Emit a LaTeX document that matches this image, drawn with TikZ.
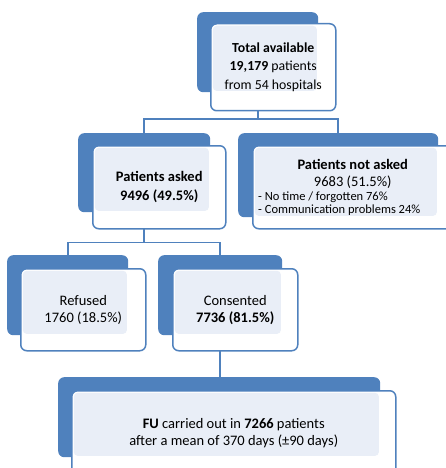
\documentclass[tikz,border=0pt]{standalone}
\usepackage{fontspec}
\setmainfont{Carlito}
\usetikzlibrary{positioning,backgrounds,calc}
\definecolor{smblue}{HTML}{4F81BD}
\definecolor{smlight}{HTML}{E9EEF7}

\begin{document}
\begin{tikzpicture}
			[x=1pt, y=-1pt,
				% STYLES
				% The back style is the blue block behind each box
				back/.style={rectangle, fill=smblue, rounded corners=6pt, inner
						sep=0pt, anchor=north west},
				% The front style is the framed box with the text
				front/.style={rectangle, draw=smblue, line width=1.5pt, fill=white,
						rounded corners=6pt, inner sep=0pt, anchor=north west},
				% light part where the two boxes overlap
				lightpart/.style={path picture={\fill[smlight, rounded corners=4pt]
								([shift={(2pt,-2pt)}]path picture bounding box.north west)
								rectangle ([shift={(-1.5pt,1.5pt)}]#1.south east);}},
				txt/.style={align=center, font=\fontsize{14.5}{18}\selectfont},
				small/.style={align=left, inner sep=1pt,
						font=\fontsize{12.5}{13.5}\selectfont},
				link/.style={draw=smblue, line width=1.8pt}]

			\useasboundingbox (0,0) rectangle (446,468);
			\clip (0,0) rectangle (446,468);

			% Draw boxes
			% TOTAL
			\node [back, minimum width=121pt, minimum height=80pt] (totalb) at (197,12) {};
			\node [front, lightpart=totalb, minimum width=125pt, minimum height=87pt]
			(totalf) at (210,23) {};
			\node [txt, font=\fontsize{13.8}{18.5}\selectfont] (totaltext) at (totalf.center)
			{\textbf{Total available}\\ \textbf{19,179} patients\\ from 54 hospitals};

			% ASKED
			\node [back, minimum width=132pt, minimum height=79pt] (askedb) at (78,133) {};
			\node [front, lightpart=askedb, minimum width=133pt, minimum height=83pt]
			(askedf) at (92,145) {};
			\node [txt, font=\fontsize{14.5}{19}\selectfont] (askedtext) at (askedf.center)
			{\textbf{Patients asked}\\ \textbf{9496 (49.5\%)}};

			% NOT ASKED
			\node [back, minimum width=200pt, minimum height=84pt] (notaskedb) at (238,133) {};
			\node [front, lightpart=notaskedb, minimum width=200pt, minimum height=83pt]
			(notaskedf) at (252,145) {};
			\node [txt, font=\fontsize{14.5}{17}\selectfont, yshift=13pt] (notaskedtext)
			at (notaskedf.center) {\textbf{Patients not asked}\\ 9683 (51.5\%)};
			\node [small, anchor=north west] (notaskedlist)
			at ([xshift=5pt,yshift=2pt]notaskedf.west |- notaskedtext.south)
			{- No time / forgotten 76\%\\ - Communication problems 24\%};

			% REFUSED
			\node [back, minimum width=121pt, minimum height=80pt] (refusedb) at (7,255) {};
			\node [front, lightpart=refusedb, minimum width=125pt, minimum height=82pt]
			(refusedf) at (20,268) {};
			\node [txt, font=\fontsize{14.5}{17}\selectfont] (refusedtext) at (refusedf.center)
			{Refused\\ 1760 (18.5\%)};

			% CONSENTED
			\node [back, minimum width=124pt, minimum height=80pt] (consentb) at (158,255) {};
			\node [front, lightpart=consentb, minimum width=125pt, minimum height=82pt]
			(consentf) at (172,268) {};
			\node [txt, font=\fontsize{14.5}{17}\selectfont] (consenttext) at (consentf.center)
			{Consented\\ \textbf{7736 (81.5\%)}};

			% FOLLOW UP
			\node [back, minimum width=322pt, minimum height=80pt] (fub) at (58,377) {};
			\node [front, lightpart=fub, minimum width=324pt, minimum height=84pt]
			(fuf) at (71,390) {};
			\node [txt, font=\fontsize{14.5}{17}\selectfont] (futext) at (fuf.center)
			{\textbf{FU} carried out in \textbf{7266} patients\\
				after a mean of 370 days (±90 days)};

			% Connectors
			\begin{scope}[on background layer]
				\path (totalb.south) ++(0,27) coordinate (split1);
				\path (askedb.south) ++(0,30) coordinate (split2);
				\draw [link] (totalb.south) -- (split1);
				\draw [link] (askedb.north) |- (split1) -| (notaskedb.north);
				\draw [link] (askedb.south) -- (split2);
				\draw [link] (refusedb.north) |- (split2) -| (consentb.north);
				\draw [link] (consentb.south) -- (consentb.south |- fub.north);
			\end{scope}

		\end{tikzpicture}
\end{document}
